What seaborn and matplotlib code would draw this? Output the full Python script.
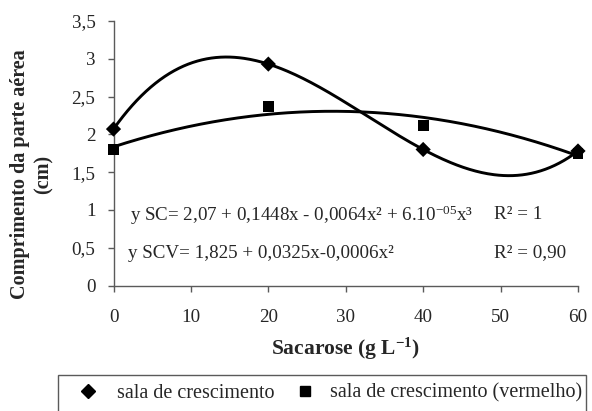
import numpy as np
import pandas as pd
import matplotlib
matplotlib.use("Agg")
import matplotlib.pyplot as plt
import seaborn as sns
from matplotlib.lines import Line2D
from matplotlib.patches import Rectangle

# Sucrose concentration (g/L) and shoot length (cm)
sacarose = [0, 20, 40, 60]
sala_crescimento = [2.07, 2.93, 1.80, 1.78]
sala_vermelho = [1.80, 2.37, 2.12, 1.75]

serie_labels = ["sala de crescimento", "sala de crescimento (vermelho)"]
x_ticks = [0, 10, 20, 30, 40, 50, 60]
y_ticks = [0, 0.5, 1, 1.5, 2, 2.5, 3, 3.5]
y_tick_labels = ["0", "0,5", "1", "1,5", "2", "2,5", "3", "3,5"]

eq_sc = "y SC= 2,07 + 0,1448x - 0,0064x² + 6.10$^{-05}$x³"
eq_scv = "y SCV= 1,825 + 0,0325x-0,0006x²"
r2_sc = "R² = 1"
r2_scv = "R² = 0,90"

sns.set_theme(style="white")
plt.rcParams["font.family"] = ["Liberation Serif", "DejaVu Serif"]
plt.rcParams["mathtext.fontset"] = "custom"
plt.rcParams["mathtext.rm"] = "Liberation Serif"
plt.rcParams["mathtext.it"] = "Liberation Serif:italic"
plt.rcParams["mathtext.bf"] = "Liberation Serif:bold"

AXIS_GRAY = "#5a5a5a"
FS_TICK = 13.7
FS_XLABEL = 15.5
FS_YLABEL = 14.5
FS_LEG = 14.5

df = pd.DataFrame({
    "Sacarose": sacarose * 2,
    "Comprimento": sala_crescimento + sala_vermelho,
    "Serie": [serie_labels[0]] * 4 + [serie_labels[1]] * 4,
})

W, H = 592, 411
fig = plt.figure(figsize=(W / 100, H / 100), dpi=100)
ax = fig.add_axes([113.5 / W, 1 - 285.5 / H, (578 - 113.5) / W, (285.5 - 21) / H])

# Trend lines: cubic for SC, quadratic for SCV
xs = np.linspace(0, 60, 300)
fit_sc = np.polyfit(sacarose, sala_crescimento, 3)
fit_scv = np.polyfit(sacarose, sala_vermelho, 2)
trend = pd.DataFrame({
    "x": np.concatenate([xs, xs]),
    "y": np.concatenate([np.polyval(fit_sc, xs), np.polyval(fit_scv, xs)]),
    "Serie": [serie_labels[0]] * len(xs) + [serie_labels[1]] * len(xs),
})
sns.lineplot(data=trend, x="x", y="y", units="Serie", estimator=None,
             color="black", lw=2.1, ax=ax, legend=False)

sns.scatterplot(data=df, x="Sacarose", y="Comprimento", hue="Serie", style="Serie",
                markers={serie_labels[0]: "D", serie_labels[1]: "s"},
                palette={serie_labels[0]: "black", serie_labels[1]: "black"},
                s=60, edgecolor="black", linewidth=0, ax=ax, legend=False, zorder=5,
                clip_on=False)

ax.set_xlim(0, 60)
ax.set_ylim(0, 3.5)
ax.set_xticks(x_ticks)
ax.set_xticklabels([str(v) for v in x_ticks], fontsize=FS_TICK)
ax.set_yticks(y_ticks)
ax.set_yticklabels(y_tick_labels, fontsize=FS_TICK)
ax.tick_params(axis="both", which="major", direction="out", length=4, width=1,
               color=AXIS_GRAY, bottom=True, left=True)
ax.tick_params(axis="x", pad=13)
ax.tick_params(axis="y", pad=9)
for side in ["top", "right"]:
    ax.spines[side].set_visible(False)
for side in ["left", "bottom"]:
    ax.spines[side].set_color(AXIS_GRAY)
    ax.spines[side].set_linewidth(1.0)
ax.grid(False)

ax.set_xlabel("Sacarose (g L$^{\\mathbf{-1}}$)", fontsize=FS_XLABEL, fontweight="bold")
ax.xaxis.label.set_va("center")
ax.xaxis.set_label_coords(0.5, -0.238)
ax.set_ylabel("Comprimento da parte aérea\n(cm)", fontsize=FS_YLABEL, fontweight="bold",
              linespacing=1.2)
ax.yaxis.label.set_va("center")
ax.yaxis.set_label_coords(-0.176, 0.42)

ax.text(2.1, 0.933, eq_sc, fontsize=FS_TICK, va="center", ha="left")
ax.text(1.9, 0.43, eq_scv, fontsize=FS_TICK, va="center", ha="left")
ax.text(49.1, 0.933, r2_sc, fontsize=FS_TICK, va="center", ha="left")
ax.text(49.1, 0.43, r2_scv, fontsize=FS_TICK, va="center", ha="left")

# Legend frame running off the bottom edge, with two entries inside
fig.add_artist(Rectangle((58 / W, -0.05), (586 - 58) / W, 1 - 375 / H + 0.05,
                         transform=fig.transFigure, fill=False,
                         edgecolor=AXIS_GRAY, linewidth=1.0))
markers = ["D", "s"]
marker_x = [88, 305]
text_pad = [0.92, 0.72]
for mk, label, mx, tp in zip(markers, serie_labels, marker_x, text_pad):
    h = Line2D([], [], marker=mk, color="black", linestyle="none", markersize=7)
    left = mx - 0.5 * FS_LEG * 100 / 72
    lg = fig.legend([h], [label], loc="center left",
                    bbox_to_anchor=(left / W, 1 - 393 / H),
                    frameon=False, fontsize=FS_LEG, borderpad=0, borderaxespad=0,
                    handlelength=1.0, handletextpad=tp)

fig.savefig("out.png", dpi=100, facecolor="white")
